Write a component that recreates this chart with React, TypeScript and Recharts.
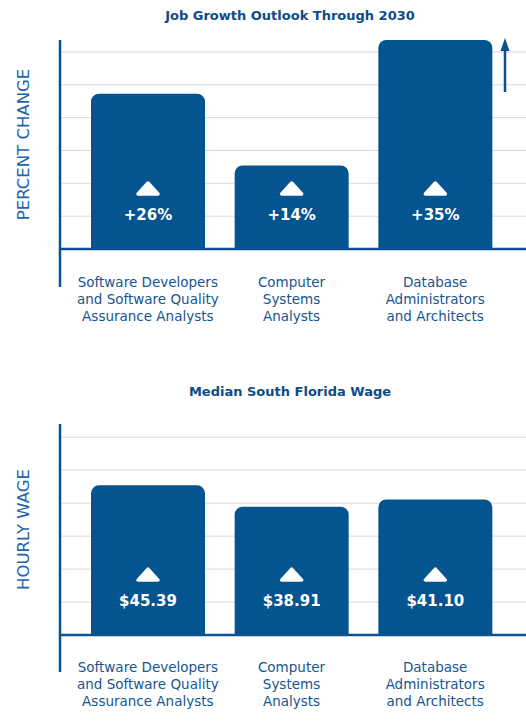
import { Bar, BarChart, CartesianGrid, Label, LabelList, ReferenceLine, XAxis, YAxis } from "recharts";

const occupations = [
  "Software Developers\nand Software Quality\nAssurance Analysts",
  "Computer\nSystems\nAnalysts",
  "Database\nAdministrators\nand Architects",
];
const growthPct = [26, 14, 35];
const hourlyWage = [45.39, 38.91, 41.1];
const growthGridTicks = [5.5, 11, 16.5, 22, 27.5, 33];
const wageGridTicks = [10, 20, 30, 40, 50, 60];

const BAR = "#03548f";
const AXIS = "#0a5190";
const TEXT = "#17558f";
const TITLE = "#0d4c87";
const GRID = "#d9d9d9";
const FONT = "'DejaVu Sans', sans-serif";

const growthData = occupations.map((name, i) => ({ name, value: growthPct[i] }));
const wageData = occupations.map((name, i) => ({ name, value: hourlyWage[i] }));

function CategoryTick({ x, y, payload }: any) {
  const lines = String(payload.value).split("\n");
  return (
    <text x={x} y={y} textAnchor="middle" fill={TEXT} fontSize={13.5} fontFamily={FONT}>
      {lines.map((l, i) => (
        <tspan key={i} x={x} dy={i === 0 ? 0 : 17}>
          {l}
        </tspan>
      ))}
    </text>
  );
}

function valueBadge(fmt: (v: number) => string) {
  return (props: any) => {
    const { x, y, width, height, value } = props;
    const cx = x + width / 2;
    const base = y + height;
    const tb = base - 55;
    return (
      <g>
        <polygon
          points={`${cx - 10},${tb} ${cx + 10},${tb} ${cx},${tb - 11}`}
          fill="#fff"
          stroke="#fff"
          strokeWidth={3.5}
          strokeLinejoin="round"
        />
        <text
          x={cx}
          y={base - 29}
          textAnchor="middle"
          fill="#fff"
          fontSize={15}
          fontWeight="bold"
          fontFamily={FONT}
        >
          {fmt(Number(value))}
        </text>
      </g>
    );
  };
}

type PanelProps = {
  data: { name: string; value: number }[];
  domain: [number, number];
  gridTicks: number[];
  axisTitle: string;
  height: number;
  top: number;
  axisHeight: number;
  fmt: (v: number) => string;
  labelShift: number;
};

function Panel({ data, domain, gridTicks, axisTitle, height, top, axisHeight, fmt, labelShift }: PanelProps) {
  const plotBottom = height - axisHeight;
  // only keep the inner grid lines, not the plot edges
  const gridLine = (p: any) =>
    p.y1 > top + 3 && p.y1 < plotBottom - 3 ? (
      <line key={p.key} x1={p.x1} y1={p.y1} x2={p.x2} y2={p.y2} stroke={GRID} strokeWidth={1} />
    ) : (
      <g key={p.key} />
    );
  return (
    <BarChart width={526} height={height} data={data} margin={{ top, right: 0, bottom: 0, left: 0 }}>
      <CartesianGrid vertical={false} horizontal={gridLine} />
      <XAxis
        dataKey="name"
        axisLine={false}
        tickLine={false}
        tickSize={0}
        tickMargin={0}
        height={axisHeight}
        padding={{ left: 16, right: 19 }}
        interval={0}
        tick={<CategoryTick />}
      />
      <YAxis
        type="number"
        domain={domain}
        ticks={gridTicks}
        interval={0}
        width={60}
        tick={() => <g />}
        tickLine={false}
        axisLine={{ stroke: AXIS, strokeWidth: 2.5 }}
      >
        <Label
          value={axisTitle}
          angle={-90}
          position="insideLeft"
          offset={23}
          dy={labelShift}
          fill="#1f64ac"
          fontSize={16.5}
          fontWeight={400}
          fontFamily={FONT}
          style={{ textAnchor: "middle" }}
        />
      </YAxis>
      <Bar dataKey="value" fill={BAR} barSize={114} radius={[8, 8, 0, 0]} isAnimationActive={false}>
        <LabelList dataKey="value" content={valueBadge(fmt)} />
      </Bar>
      <ReferenceLine y={0} stroke={AXIS} strokeWidth={2.5} />
    </BarChart>
  );
}

const titleStyle: React.CSSProperties = {
  position: "absolute",
  left: 54,
  width: 472,
  textAlign: "center",
  color: TITLE,
  fontFamily: FONT,
  fontWeight: "bold",
  fontSize: 13,
};

export default function App() {
  return (
    <div style={{ position: "absolute", left: 0, top: 0, width: 526, height: 724, background: "#fff" }}>
      <div style={{ position: "absolute", left: 0, top: 0 }}>
        <Panel
          data={growthData}
          domain={[-6.36, 35]}
          gridTicks={growthGridTicks}
          axisTitle="PERCENT CHANGE"
          height={330}
          top={40}
          axisHeight={43}
          fmt={(v) => `+${v}%`}
          labelShift={-19}
        />
        <svg width={20} height={60} style={{ position: "absolute", left: 495, top: 36 }}>
          <line x1={10} y1={12} x2={10} y2={56} stroke={AXIS} strokeWidth={2.5} />
          <polygon points="10,2 5.5,15 14.5,15" fill={AXIS} />
        </svg>
      </div>
      <div style={{ ...titleStyle, top: 8 }}>Job Growth Outlook Through 2030</div>
      <div style={{ position: "absolute", left: 0, top: 362 }}>
        <Panel
          data={wageData}
          domain={[-11.2, 64]}
          gridTicks={wageGridTicks}
          axisTitle="HOURLY WAGE"
          height={362}
          top={62}
          axisHeight={52}
          fmt={(v) => `$${v.toFixed(2)}`}
          labelShift={-18.5}
        />
      </div>
      <div style={{ ...titleStyle, top: 384 }}>Median South Florida Wage</div>
    </div>
  );
}
